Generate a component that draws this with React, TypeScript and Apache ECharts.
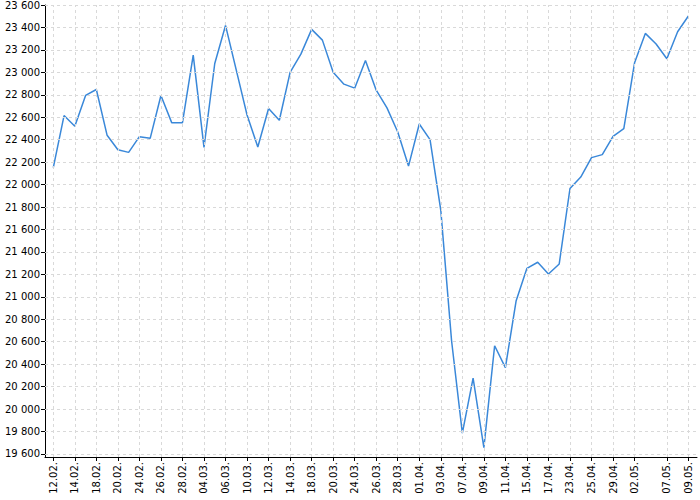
import React, { useEffect, useRef } from "react";
import * as echarts from "echarts";

const values: number[] = [
  22151, 22615, 22520, 22794, 22847, 22439, 22311, 22287, 22427, 22412,
  22794, 22552, 22552, 23154, 22332, 23079, 23418, 23020, 22620, 22335,
  22678, 22573, 23000, 23162, 23383, 23287, 23000, 22895, 22859, 23106,
  22841, 22683, 22469, 22165, 22540, 22401, 21770, 20609, 19785, 20276,
  19656, 20564, 20370, 20966, 21254, 21308, 21204, 21293, 21965, 22067,
  22240, 22267, 22430, 22499, 23085, 23347, 23252, 23121, 23362, 23502,
];

const tickIndices: number[] = [
  0, 2, 4, 6, 8, 10, 12, 14, 16, 18, 20, 22, 24, 26, 28, 30, 32, 34, 36, 38,
  40, 42, 44, 46, 48, 50, 52, 54, 57, 59,
];
const tickLabels: string[] = [
  "12.02.", "14.02.", "18.02.", "20.02.", "24.02.", "26.02.", "28.02.", "04.03.",
  "06.03.", "10.03.", "12.03.", "14.03.", "18.03.", "20.03.", "24.03.", "26.03.",
  "28.03.", "01.04.", "03.04.", "07.04.", "09.04.", "11.04.", "15.04.", "17.04.",
  "23.04.", "25.04.", "29.04.", "02.05.", "07.05.", "09.05.",
];
const yTicks: number[] = [
  19600, 19800, 20000, 20200, 20400, 20600, 20800, 21000, 21200, 21400, 21600,
  21800, 22000, 22200, 22400, 22600, 22800, 23000, 23200, 23400, 23600,
];

const FONT = "DejaVu Sans";
const GRID_STYLE = { color: "#d9d9d9", type: [3, 3], width: 1 };

export default function App() {
  const ref = useRef<HTMLDivElement>(null);
  useEffect(() => {
    if (!ref.current) return;
    const chart = echarts.init(ref.current, null, { renderer: "svg" });
    const fmtY = (v: number) => {
      const s = String(Math.round(v));
      return s.slice(0, s.length - 3) + " " + s.slice(-3);
    };
    chart.setOption({
      animation: false,
      grid: { left: 45, right: 3, top: 5, bottom: 43, containLabel: false },
      xAxis: {
        type: "value",
        min: -0.77,
        max: 59.8,
        axisLine: { show: true, onZero: false, lineStyle: { color: "#000", width: 1 } },
        axisTick: {
          show: true,
          customValues: tickIndices,
          length: 4,
          lineStyle: { color: "#000" },
        },
        axisLabel: {
          customValues: tickIndices,
          rotate: 90,
          margin: 5,
          color: "#000",
          fontFamily: FONT,
          fontSize: 10,
          formatter: (v: number) => {
            const k = tickIndices.indexOf(Math.round(v));
            return k >= 0 ? tickLabels[k] : "";
          },
        },
        splitLine: { show: false },
      },
      yAxis: {
        type: "value",
        min: 19573,
        max: 23600,
        axisLine: { show: true, onZero: false, lineStyle: { color: "#000", width: 1 } },
        axisTick: {
          show: true,
          customValues: yTicks,
          length: 4,
          lineStyle: { color: "#000" },
        },
        axisLabel: {
          customValues: yTicks,
          margin: 5,
          color: "#000",
          fontFamily: FONT,
          fontSize: 10,
          formatter: fmtY,
        },
        splitLine: { show: false },
      },
      series: [
        {
          type: "line",
          data: [],
          z: 1,
          silent: true,
          markLine: {
            silent: true,
            symbol: ["none", "none"],
            label: { show: false },
            lineStyle: GRID_STYLE,
            emphasis: { disabled: true },
            data: [
              ...yTicks.map((v) => ({ yAxis: v })),
              ...tickIndices.map((i) => ({ xAxis: i })),
            ],
          },
        },
        {
          type: "line",
          z: 2,
          data: values.map((v, i) => [i, v]),
          showSymbol: false,
          lineStyle: { color: "#3a88d9", width: 1.5 },
          itemStyle: { color: "#3a88d9" },
        },
      ],
    });
    return () => chart.dispose();
  }, []);
  return <div ref={ref} style={{ width: 700, height: 500, position: "absolute", left: 0, top: 0 }} />;
}
